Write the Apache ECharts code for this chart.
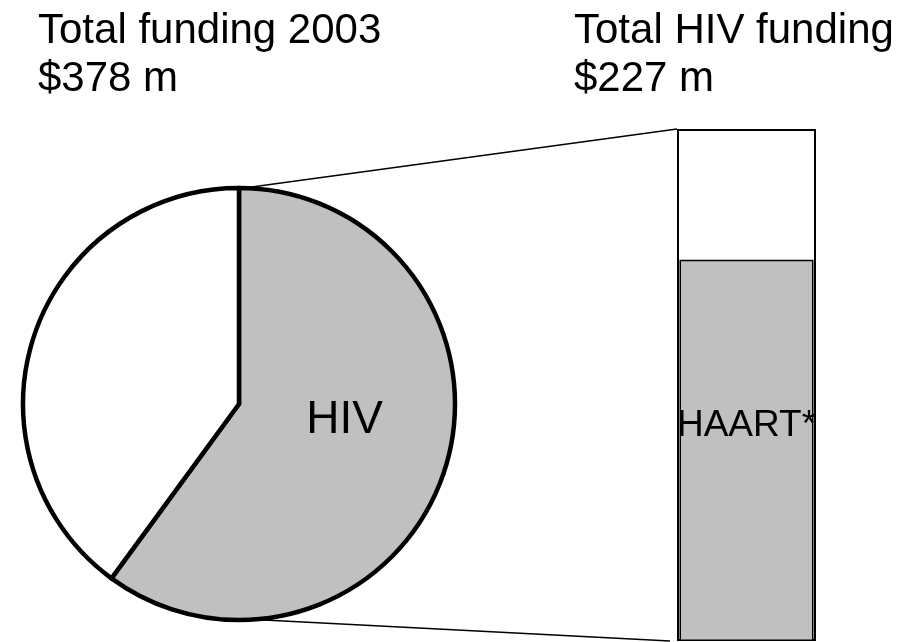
<!DOCTYPE html>
<html>
<head>
<meta charset="utf-8">
<script src="https://cdn.jsdelivr.net/npm/echarts@6/dist/echarts.min.js"></script>
<style>
  html, body { margin: 0; padding: 0; background: #fff; }
  #main { width: 906px; height: 642px; }
</style>
</head>
<body>
<div id="main"></div>
<script>
// values in $ millions, 2003
var totalFunding = 378;
var hivFunding = 227;
var otherFunding = totalFunding - hivFunding;
var haartFunding = 169;

var pieNames = ['HIV', 'Other'];
var pieValues = [hivFunding, otherFunding];
var barCategory = ['HIV'];

var FONT = 'Liberation Sans, Arial, Helvetica, sans-serif';
var PIE_CX = 239, PIE_CY = 404, PIE_R = 216;
var OUTER_W = 139, INNER_W = 134;

var chart = echarts.init(document.getElementById('main'), null, { renderer: 'canvas' });

var option = {
    animation: false,
    backgroundColor: '#fff',
    title: [
        {
            text: 'Total funding 2003\n$' + totalFunding + ' m',
            left: 38, top: 7, padding: 0,
            textStyle: { fontFamily: FONT, fontSize: 42, fontWeight: 'normal', color: '#000', lineHeight: 48 }
        },
        {
            text: 'Total HIV funding\n$' + hivFunding + ' m',
            left: 574, top: 7, padding: 0,
            textStyle: { fontFamily: FONT, fontSize: 42, fontWeight: 'normal', color: '#000', lineHeight: 48 }
        }
    ],
    grid: {
        left: 677, top: 129, width: OUTER_W, height: 512,
        show: false
    },
    xAxis: [
        { type: 'category', data: barCategory, gridIndex: 0, show: false },
        { type: 'category', data: barCategory, gridIndex: 0, show: false }
    ],
    yAxis: { type: 'value', min: 0, max: hivFunding, show: false },
    series: [
        {
            type: 'pie',
            center: [PIE_CX, PIE_CY],
            radius: PIE_R,
            startAngle: 90,
            clockwise: true,
            silent: true,
            itemStyle: { borderColor: '#000', borderWidth: 4.5 },
            label: {
                position: 'inside',
                fontFamily: FONT,
                fontSize: 46,
                lineHeight: 36,
                color: '#000',
                // trailing blank line lifts the label a little above the slice centre
                formatter: function (p) { return p.name === 'HIV' ? 'HIV\n ' : ''; }
            },
            labelLine: { show: false },
            data: pieNames.map(function (n, i) {
                return {
                    name: n,
                    value: pieValues[i],
                    itemStyle: { color: i === 0 ? '#c0c0c0' : '#fff' }
                };
            })
        },
        {
            type: 'bar',
            xAxisIndex: 0,
            barWidth: OUTER_W,
            silent: true,
            itemStyle: { color: '#fff', borderColor: '#000', borderWidth: 2 },
            data: [hivFunding]
        },
        {
            type: 'bar',
            xAxisIndex: 1,
            barWidth: INNER_W,
            silent: true,
            itemStyle: { color: '#c0c0c0', borderColor: '#000', borderWidth: 1.5 },
            label: {
                show: true,
                position: ['50%', 166],
                align: 'center',
                verticalAlign: 'middle',
                fontFamily: FONT,
                fontSize: 37,
                color: '#000',
                formatter: 'HAART*'
            },
            data: [haartFunding]
        }
    ]
};

chart.setOption(option);

// connector lines from the pie's top/bottom to the corners of the HIV bar
var topPt = chart.convertToPixel({ xAxisIndex: 0, yAxisIndex: 0 }, [barCategory[0], hivFunding]);
var botPt = chart.convertToPixel({ xAxisIndex: 0, yAxisIndex: 0 }, [barCategory[0], 0]);
var barLeft = topPt[0] - OUTER_W / 2;

chart.setOption({
    graphic: [
        {
            type: 'line', silent: true, z: 10,
            shape: { x1: PIE_CX - 2, y1: PIE_CY - PIE_R + 1, x2: barLeft, y2: topPt[1] },
            style: { stroke: '#000', lineWidth: 1.5 }
        },
        {
            type: 'line', silent: true, z: 10,
            shape: { x1: PIE_CX + 6, y1: PIE_CY + PIE_R - 1, x2: barLeft - 7, y2: botPt[1] },
            style: { stroke: '#000', lineWidth: 1.5 }
        }
    ]
});
</script>
</body>
</html>
